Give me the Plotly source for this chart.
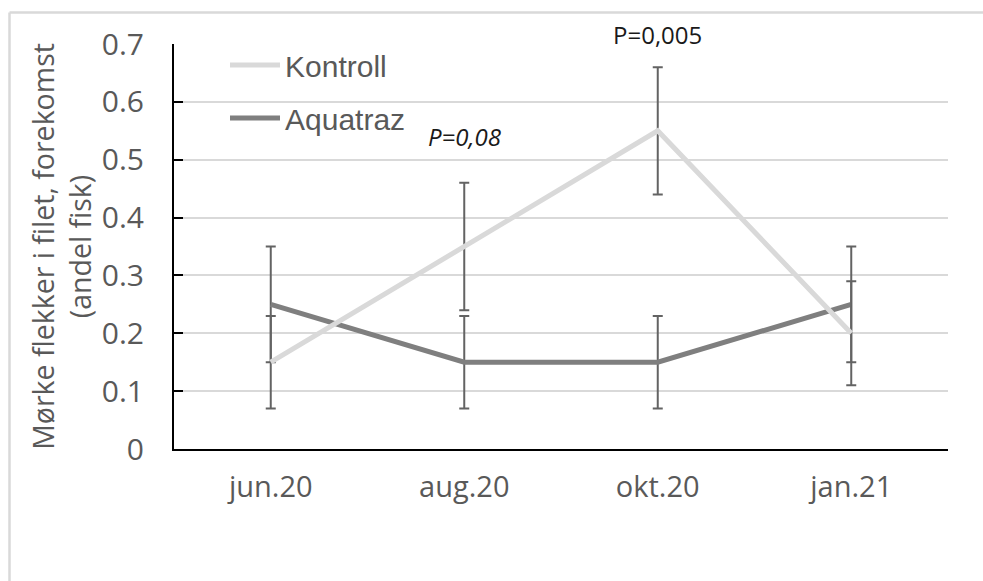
import plotly.graph_objects as go

# Sampling dates
months = ["jun.20", "aug.20", "okt.20", "jan.21"]

# Share of fish with dark spots in the fillet, with error margins
kontroll = [0.15, 0.35, 0.55, 0.20]
kontroll_err = [0.08, 0.11, 0.11, 0.09]
aquatraz = [0.25, 0.15, 0.15, 0.25]
aquatraz_err = [0.10, 0.08, 0.08, 0.10]

# Significance labels: (month, y value, text, italic)
p_labels = [
    ("aug.20", 0.54, "P=0,08", True),
    ("okt.20", 0.717, "P=0,005", False),
]

Y_MAX = 0.7
W, H = 983, 581
L, R, T, B = 174, 35, 44, 132
pw, ph = W - L - R, H - T - B

TXT = "#595959"
ERR = "#636363"
FONT = "Open Sans"


def px_x(p):
    return (p - L) / pw


def px_y(p):
    return (H - B - p) / ph


fig = go.Figure()

fig.add_trace(go.Scatter(
    x=months, y=aquatraz, name="Aquatraz", mode="lines",
    line=dict(color="#7f7f7f", width=5), legendgroup="b", legendrank=2,
    error_y=dict(type="data", array=aquatraz_err, visible=True,
                 color=ERR, thickness=2, width=5),
))
fig.add_trace(go.Scatter(
    x=months, y=kontroll, name="Kontroll", mode="lines",
    line=dict(color="#d9d9d9", width=5), legendgroup="a", legendrank=1,
    error_y=dict(type="data", array=kontroll_err, visible=True,
                 color=ERR, thickness=2, width=5),
))

for m, yv, txt, it in p_labels:
    fig.add_annotation(
        x=m, y=yv / Y_MAX, xref="x", yref="paper", showarrow=False,
        xanchor="center", yanchor="middle",
        text=f"<i>{txt}</i>" if it else txt,
        font=dict(family=FONT, size=24, color="#1a1a1a"),
    )

# Chart-area border (left and top edges)
fig.add_shape(type="line", xref="paper", yref="paper",
              x0=px_x(9.5), x1=px_x(9.5), y0=px_y(12.5), y1=px_y(600),
              line=dict(color="#d9d9d9", width=2.5))
fig.add_shape(type="line", xref="paper", yref="paper",
              x0=px_x(9.5), x1=px_x(1000), y0=px_y(12.5), y1=px_y(12.5),
              line=dict(color="#d9d9d9", width=2.5))

fig.update_layout(
    width=W, height=H,
    margin=dict(l=L, r=R, t=T, b=B, pad=0),
    paper_bgcolor="white", plot_bgcolor="white",
    font=dict(family=FONT, color=TXT),
    legend=dict(
        x=px_x(225), y=px_y(39), xanchor="left", yanchor="top",
        bgcolor="rgba(0,0,0,0)", borderwidth=0,
        font=dict(family="Liberation Sans", size=30, color=TXT),
        tracegroupgap=11, itemwidth=50,
        traceorder="grouped",
    ),
    xaxis=dict(
        range=[-0.5, len(months) - 0.5],
        showgrid=False, showline=True, linecolor="black", linewidth=2,
        ticks="", tickfont=dict(family=FONT, size=29, color=TXT),
        ticklabelstandoff=11, zeroline=False,
    ),
    yaxis=dict(
        range=[0, Y_MAX],
        showgrid=True, gridcolor="#d9d9d9", gridwidth=2,
        showline=True, linecolor="black", linewidth=2,
        ticks="inside", ticklen=9, tickwidth=2, tickcolor="black",
        tickfont=dict(family=FONT, size=30, color=TXT),
        ticklabelstandoff=22, zeroline=False,
        title=dict(text="Mørke flekker i filet, forekomst<br>(andel fisk)",
                   font=dict(family=FONT, size=28.5, color=TXT), standoff=2),
    ),
)
fig.update_yaxes(tickvals=[0, 0.1, 0.2, 0.3, 0.4, 0.5, 0.6, 0.7],
                 ticktext=["0", "0.1", "0.2", "0.3", "0.4", "0.5", "0.6", "0.7"])

fig.write_html("out.html")
